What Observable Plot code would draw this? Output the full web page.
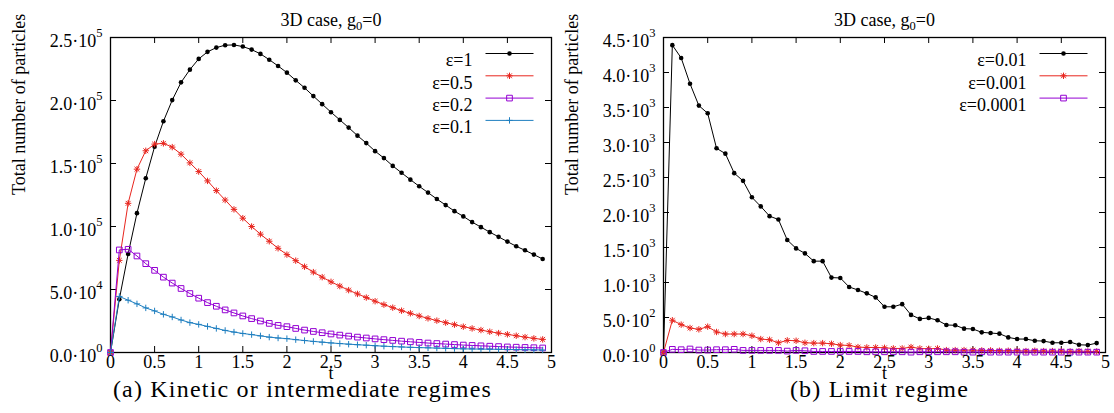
<!DOCTYPE html>
<html><head><meta charset="utf-8">
<script src="https://cdn.jsdelivr.net/npm/d3@7"></script>
<script src="https://cdn.jsdelivr.net/npm/@observablehq/plot@0.6"></script>
<style>
body{margin:0;background:#fff;font-family:'Liberation Serif';}
#wrap{display:flex;width:1114px;height:413px;overflow:hidden;}
svg{display:block;flex:none;}
</style></head><body><div id="wrap"></div>
<script>
// ---- data ----
const t = [0,0.1,0.2,0.3,0.4,0.5,0.6,0.7,0.8,0.9,1.0,1.1,1.2,1.3,1.4,1.5,1.6,1.7,1.8,1.9,
           2.0,2.1,2.2,2.3,2.4,2.5,2.6,2.7,2.8,2.9,3.0,3.1,3.2,3.3,3.4,3.5,3.6,3.7,3.8,3.9,
           4.0,4.1,4.2,4.3,4.4,4.5,4.6,4.7,4.8,4.9];

// panel (a)
const eps1 = [0,42300,78200,110600,138300,163300,183500,200300,214400,224500,233000,238600,242000,243900,244100,242800,240400,237000,232400,227400,
              222100,216000,210100,203500,197100,190700,184600,178500,172100,166200,159800,154300,148100,142600,137200,131900,126900,121800,117000,112200,
              108000,103500,99500,95500,91800,88000,84300,81100,77700,74200];
const eps05 = [0,73100,118400,145500,160100,165400,166000,163000,157400,150500,143600,136200,128500,121000,113600,106600,100000,93900,88300,82700,
               77700,72900,68100,63800,59800,56100,52700,49500,46500,43600,40700,38000,35600,33200,31100,29000,27100,25300,23700,22100,
               20500,19100,17800,16500,15400,14400,13300,12200,11200,10400];
const eps02 = [0,81400,81900,76600,70500,65200,59800,55100,50800,46800,43100,39600,36700,33800,31400,29000,26900,25000,23100,21500,
               20500,19100,17800,16700,15700,14700,13800,13000,12200,11500,10800,10200,9600,9000,8500,8000,7500,7100,6700,6300,
               5900,5600,5300,5000,4700,4400,4200,4000,3800,3600];
const eps01 = [0,44500,41500,38600,35400,33000,30300,28200,25800,23700,22300,20700,19100,17500,16200,15100,14200,13200,12200,11500,
               11000,10200,9500,8800,8200,7600,7100,6600,6200,5800,5400,5000,4700,4400,4100,3900,3700,3500,3300,3100,
               2900,2800,2700,2600,2500,2400,2300,2200,2100,2000];

// panel (b)
const eps001 = [0,4391,4208,3839,3527,3417,2917,2841,2562,2452,2217,2087,1948,1900,1607,1487,1416,1305,1305,1070,
                1065,936,893,845,787,653,653,691,537,480,494,461,393,389,341,336,288,278,269,216,
                192,192,168,163,139,139,149,110,106,134];
const eps0001 = [0,461,398,350,331,369,293,264,264,264,240,192,182,139,173,168,139,134,134,125,
                 106,101,77,72,72,67,58,58,77,58,53,58,34,34,34,34,30,30,25,25,
                 25,20,25,20,20,20,15,20,15,15];
const eps00001 = [0,45,40,50,35,35,40,40,45,30,30,30,30,30,20,30,25,15,15,15,
                  15,15,15,10,10,10,10,10,5,10,10,10,10,10,5,5,10,5,5,5,
                  5,5,5,5,5,5,5,5,5,5];

const labelsA = ["ε=1","ε=0.5","ε=0.2","ε=0.1"];
const labelsB = ["ε=0.01","ε=0.001","ε=0.0001"];

const xTicks = [0,0.5,1,1.5,2,2.5,3,3.5,4,4.5,5];
const xTickLabels = ["0","0.5","1","1.5","2","2.5","3","3.5","4","4.5","5"];
const yTicksA = [0,50000,100000,150000,200000,250000];
const yTickLabelsA = ["0.0·10^0","5.0·10^4","1.0·10^5","1.5·10^5","2.0·10^5","2.5·10^5"];
const yTicksB = [0,500,1000,1500,2000,2500,3000,3500,4000,4500];
const yTickLabelsB = ["0.0·10^0","5.0·10^2","1.0·10^3","1.5·10^3","2.0·10^3","2.5·10^3","3.0·10^3","3.5·10^3","4.0·10^3","4.5·10^3"];

const title = "3D case, g_0=0";
const yLabel = "Total number of particles";
const xLabel = "t";
const captionA = "(a) Kinetic or intermediate regimes";
const captionB = "(b) Limit regime";

// ---- styling ----
const FONT = "Liberation Serif";
const colors = ["#000000", "#e8251e", "#9400d3", "#1f7fc0"];
function lineSym(h){ return {draw(ctx){ ctx.moveTo(-h,0); ctx.lineTo(h,0); }}; }
function starSym(h){ return {draw(ctx){
  ctx.moveTo(-h,0); ctx.lineTo(h,0); ctx.moveTo(0,-h); ctx.lineTo(0,h);
  const d = h*0.75; ctx.moveTo(-d,-d); ctx.lineTo(d,d); ctx.moveTo(-d,d); ctx.lineTo(d,-d); }}; }
function plusSym(h){ return {draw(ctx){ ctx.moveTo(-h,0); ctx.lineTo(h,0); ctx.moveTo(0,-h); ctx.lineTo(0,h); }}; }
const markers = [
  {symbol: "circle", r: 2.3, fill: true},
  {symbol: starSym(3.2), r: 3, fill: false},
  {symbol: "square", r: 3.2, fill: false},
  {symbol: plusSym(3.2), r: 3, fill: false}
];

const W = 557, H = 413, MT = 37, MB = 61;

function panel({series, labels, yTicks, yTickLabels, ymax, ml, mr, caption, captionDx}) {
  const fw = W - ml - mr, fh = H - MT - MB;
  const marks = [Plot.frame({stroke: "black", strokeWidth: 1.3})];
  marks.push(
    Plot.ruleY(yTicks, {y: d => d, insetRight: fw - 6, stroke: "black"}),
    Plot.ruleY(yTicks, {y: d => d, insetLeft: fw - 6, stroke: "black"}),
    Plot.ruleX(xTicks, {x: d => d, insetTop: fh - 6, stroke: "black"}),
    Plot.ruleX(xTicks, {x: d => d, insetBottom: fh - 6, stroke: "black"})
  );
  series.forEach((vals, k) => {
    const rows = t.map((tt, i) => ({t: tt, v: vals[i]}));
    const c = colors[k], m = markers[k];
    marks.push(Plot.line(rows, {x: "t", y: "v", stroke: c, strokeWidth: 1}));
    marks.push(Plot.dot(rows, {x: "t", y: "v", symbol: m.symbol, r: m.r,
      fill: m.fill ? c : "none", stroke: m.fill ? "none" : c, strokeWidth: 1}));
    const dy = 16 + k * 22.3;
    marks.push(Plot.text([labels[k]], {frameAnchor: "top-right", dx: -79, dy, textAnchor: "end", fontSize: 18, fontFamily: FONT}));
    marks.push(Plot.dot([0], {frameAnchor: "top-right", dx: -42, dy, symbol: lineSym(24), r: 3, stroke: c, fill: "none", strokeWidth: 1}));
    marks.push(Plot.dot([0], {frameAnchor: "top-right", dx: -42, dy, symbol: m.symbol, r: m.r,
      fill: m.fill ? c : "none", stroke: m.fill ? "none" : c, strokeWidth: 1}));
  });
  marks.push(
    Plot.axisY({ticks: yTicks, tickSize: 0, tickPadding: 8, dy: 4, fontSize: 18, fontFamily: FONT, label: null,
      tickFormat: d => yTickLabels[yTicks.indexOf(d)]}),
    Plot.axisX({ticks: xTicks, tickSize: 0, tickPadding: 3, fontSize: 18, fontFamily: FONT, label: null,
      tickFormat: d => xTickLabels[xTicks.indexOf(d)]}),
    Plot.text([title], {frameAnchor: "top", dy: -24.5, fontSize: 18, fontFamily: FONT}),
    Plot.text([yLabel], {frameAnchor: "left", dx: -91, rotate: -90, fontSize: 18, fontFamily: FONT}),
    Plot.text([xLabel], {frameAnchor: "bottom", dy: 26, fontSize: 18, fontFamily: FONT}),
    Plot.text([caption], {frameAnchor: "bottom", dx: captionDx, dy: 44, fontSize: 24, fontFamily: FONT})
  );
  const svg = Plot.plot({
    width: W, height: H, marginTop: MT, marginBottom: MB, marginLeft: ml, marginRight: mr,
    x: {domain: [0, 5]}, y: {domain: [0, ymax]},
    style: {fontFamily: FONT, fontSize: "18px"},
    marks
  });
  svg.style.overflow = "visible";
  // rich text: superscripts / subscripts
  d3.select(svg).selectAll("text").each(function() {
    const el = d3.select(this);
    const s = this.textContent;
    let m;
    if ((m = s.match(/^(.*)\^(.*)$/))) {
      el.text("");
      el.append("tspan").text(m[1]);
      el.append("tspan").attr("dy", -10).attr("font-size", 12.5).text(m[2]);
    } else if ((m = s.match(/^(.*)_(.)(.*)$/))) {
      el.text("");
      el.append("tspan").text(m[1]);
      el.append("tspan").attr("dy", 4).attr("font-size", 12.5).text(m[2]);
      el.append("tspan").attr("dy", -4).text(m[3]);
    } else if (s === caption) {
      el.attr("letter-spacing", 1.2);
    }
  });
  return svg;
}

const wrap = document.getElementById("wrap");
wrap.appendChild(panel({series: [eps1, eps05, eps02, eps01], labels: labelsA, yTicks: yTicksA, yTickLabels: yTickLabelsA,
  ymax: 250000, ml: 110, mr: 6, caption: captionA, captionDx: -28.5}));
wrap.appendChild(panel({series: [eps001, eps0001, eps00001], labels: labelsB, yTicks: yTicksB, yTickLabels: yTickLabelsB,
  ymax: 4500, ml: 106, mr: 9, caption: captionB, captionDx: -5}));
</script></body></html>
